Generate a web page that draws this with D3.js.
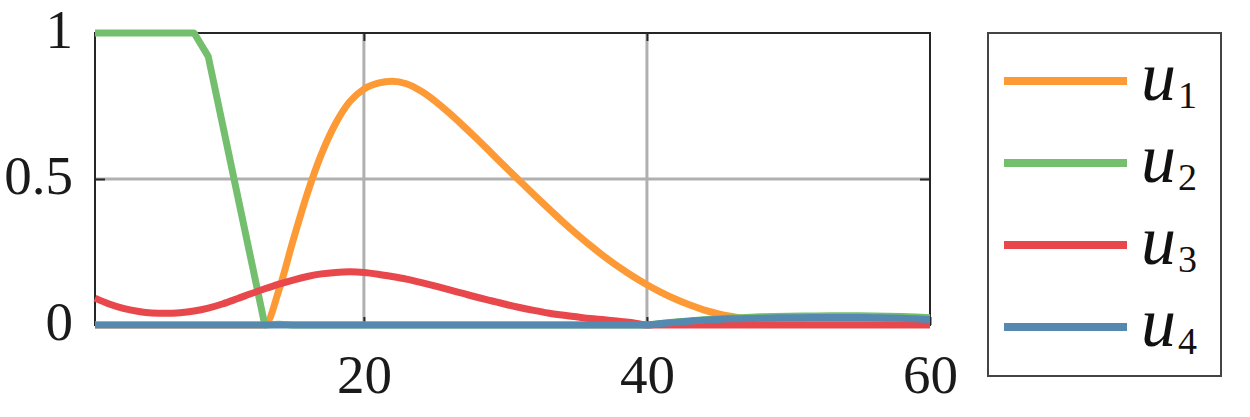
<!DOCTYPE html>
<html>
<head>
<meta charset="utf-8">
<script src="https://cdn.jsdelivr.net/npm/d3@7"></script>
<style>
  html, body { margin: 0; padding: 0; background: #fff; }
  svg { display: block; }
  text { font-family: "Liberation Serif", "DejaVu Serif", serif; }
</style>
</head>
<body>
<svg id="chart" width="1250" height="417"></svg>
<script>
// ---- data ----
const xValues = d3.range(1, 61); // sample index 1..60
const u1 = [0,0,0,0,0,0,0,0,0,0,0,0,0,0.12,0.29,0.45,0.585,0.69,0.765,0.808,
            0.828,0.835,0.826,0.802,0.768,0.727,0.683,0.637,0.589,0.541,0.494,0.447,0.401,0.356,0.313,0.272,0.234,0.199,0.167,0.138,
            0.112,0.089,0.069,0.052,0.039,0.029,0.021,0.015,0.011,0.008,0.007,0.006,0.005,0.004,0.004,0.003,0.003,0.002,0.002,0.002];
const u2 = [1,1,1,1,1,1,1,1,0.92,0.69,0.46,0.23,0,0.003,0,0,0,0,0,0,
            0,0,0,0,0,0,0,0,0,0,0,0,0,0,0,0,0,0,0,0,
            0.005,0.01,0.014,0.018,0.021,0.024,0.026,0.028,0.029,0.030,0.031,0.031,0.032,0.032,0.032,0.031,0.030,0.029,0.027,0.025];
const u3 = [0.092,0.072,0.057,0.047,0.041,0.040,0.042,0.048,0.058,0.072,0.089,0.107,0.124,0.140,0.154,0.166,0.175,0.180,0.182,0.180,
            0.174,0.166,0.157,0.146,0.134,0.121,0.108,0.095,0.083,0.071,0.060,0.050,0.041,0.034,0.028,0.022,0.018,0.013,0.008,0,
            0,0,0,0,0,0,0,0,0,0,0,0,0,0,0,0,0,0,0,0];
const u4 = [0,0,0,0,0,0,0,0,0,0,0,0,0,0,0,0,0,0,0,0,
            0,0,0,0,0,0,0,0,0,0,0,0,0,0,0,0,0,0,0,0,
            0.005,0.009,0.013,0.016,0.019,0.021,0.022,0.023,0.024,0.025,0.025,0.026,0.026,0.026,0.026,0.025,0.024,0.023,0.021,0.019];
const seriesNames = ["1", "2", "3", "4"];
const seriesColors = ["#FD9A35", "#74BF6E", "#E8484C", "#5689B0"];
const seriesValues = [u1, u2, u3, u4];
const xTicks = [20, 40, 60];
const yTicks = [0, 0.5, 1];
const yTickLabels = ["0", "0.5", "1"];
const xGrid = [20, 40];
const yGrid = [0.5];

// ---- layout ----
const svg = d3.select("#chart");
const x = d3.scaleLinear().domain([1, 60]).range([95, 930]);
const y = d3.scaleLinear().domain([0, 1]).range([325, 33]);
const axisColor = "#262626";
const serif = "'Liberation Serif', 'DejaVu Serif', serif";

// grid
const grid = svg.append("g");
grid.selectAll("line.gx").data(xGrid).join("line")
  .attr("x1", d => x(d)).attr("x2", d => x(d))
  .attr("y1", y(1)).attr("y2", y(0))
  .attr("stroke", "#b0b0b0").attr("stroke-width", 3);
grid.selectAll("line.gy").data(yGrid).join("line")
  .attr("y1", d => y(d)).attr("y2", d => y(d))
  .attr("x1", x(1)).attr("x2", x(60))
  .attr("stroke", "#b0b0b0").attr("stroke-width", 3);

// box
svg.append("rect")
  .attr("x", x(1)).attr("y", y(1))
  .attr("width", x(60) - x(1)).attr("height", y(0) - y(1))
  .attr("fill", "none").attr("stroke", axisColor).attr("stroke-width", 2);

// axes ticks (inward) and labels
const xb = svg.append("g").attr("transform", `translate(0,${y(0)})`)
  .call(d3.axisBottom(x).tickValues(xTicks).tickSize(-8).tickSizeOuter(0).tickFormat(d3.format("d")));
const xt = svg.append("g").attr("transform", `translate(0,${y(1)})`)
  .call(d3.axisTop(x).tickValues(xGrid).tickSize(-8).tickSizeOuter(0).tickFormat(""));
const yl = svg.append("g").attr("transform", `translate(${x(1)},0)`)
  .call(d3.axisLeft(y).tickValues(yTicks).tickSize(-10).tickSizeOuter(0).tickFormat((d, i) => yTickLabels[i]));
const yr = svg.append("g").attr("transform", `translate(${x(60)},0)`)
  .call(d3.axisRight(y).tickValues(yGrid).tickSize(-10).tickSizeOuter(0).tickFormat(""));
[xb, xt, yl, yr].forEach(g => {
  g.attr("font-family", null).attr("font-size", null);
  g.select(".domain").remove();
  g.selectAll(".tick line").attr("stroke", axisColor).attr("stroke-width", 2);
});
xb.selectAll(".tick text")
  .attr("y", 68).attr("dy", null)
  .style("font-family", serif)
  .style("font-size", "55px").attr("fill", "#1a1a1a");
yl.selectAll(".tick text")
  .attr("x", -22).attr("dy", 14)
  .attr("text-anchor", "end")
  .style("font-family", serif)
  .style("font-size", "55px").attr("fill", "#1a1a1a");

// lines
const smooth = d3.line().x((d, i) => x(xValues[i])).y(d => y(d)).curve(d3.curveMonotoneX);
const straight = d3.line().x((d, i) => x(xValues[i])).y(d => y(d));
svg.append("g").selectAll("path").data(seriesValues).join("path")
  .attr("d", (d, i) => (i === 1 ? straight : smooth)(d))
  .attr("fill", "none")
  .attr("stroke", (d, i) => seriesColors[i])
  .attr("stroke-width", 7)
  .attr("stroke-linejoin", "round");

// legend
const lg = svg.append("g");
lg.append("rect").attr("x", 988).attr("y", 33).attr("width", 233).attr("height", 343)
  .attr("fill", "#fff").attr("stroke", "#444").attr("stroke-width", 2);
const items = lg.selectAll("g.item").data(seriesNames).join("g")
  .attr("transform", (d, i) => `translate(0,${81 + i * 82})`);
items.append("line").attr("x1", 1004).attr("x2", 1127).attr("y1", 0).attr("y2", 0)
  .attr("stroke", (d, i) => seriesColors[i]).attr("stroke-width", 8);
const t = items.append("text").attr("x", 1141).attr("y", 19)
  .style("font-family", serif).attr("fill", "#111");
t.append("tspan").style("font-style", "italic").style("font-size", "70px").text("u");
t.append("tspan").attr("x", 1178).attr("y", 27).style("font-size", "38px").text(d => d);
</script>
</body>
</html>
